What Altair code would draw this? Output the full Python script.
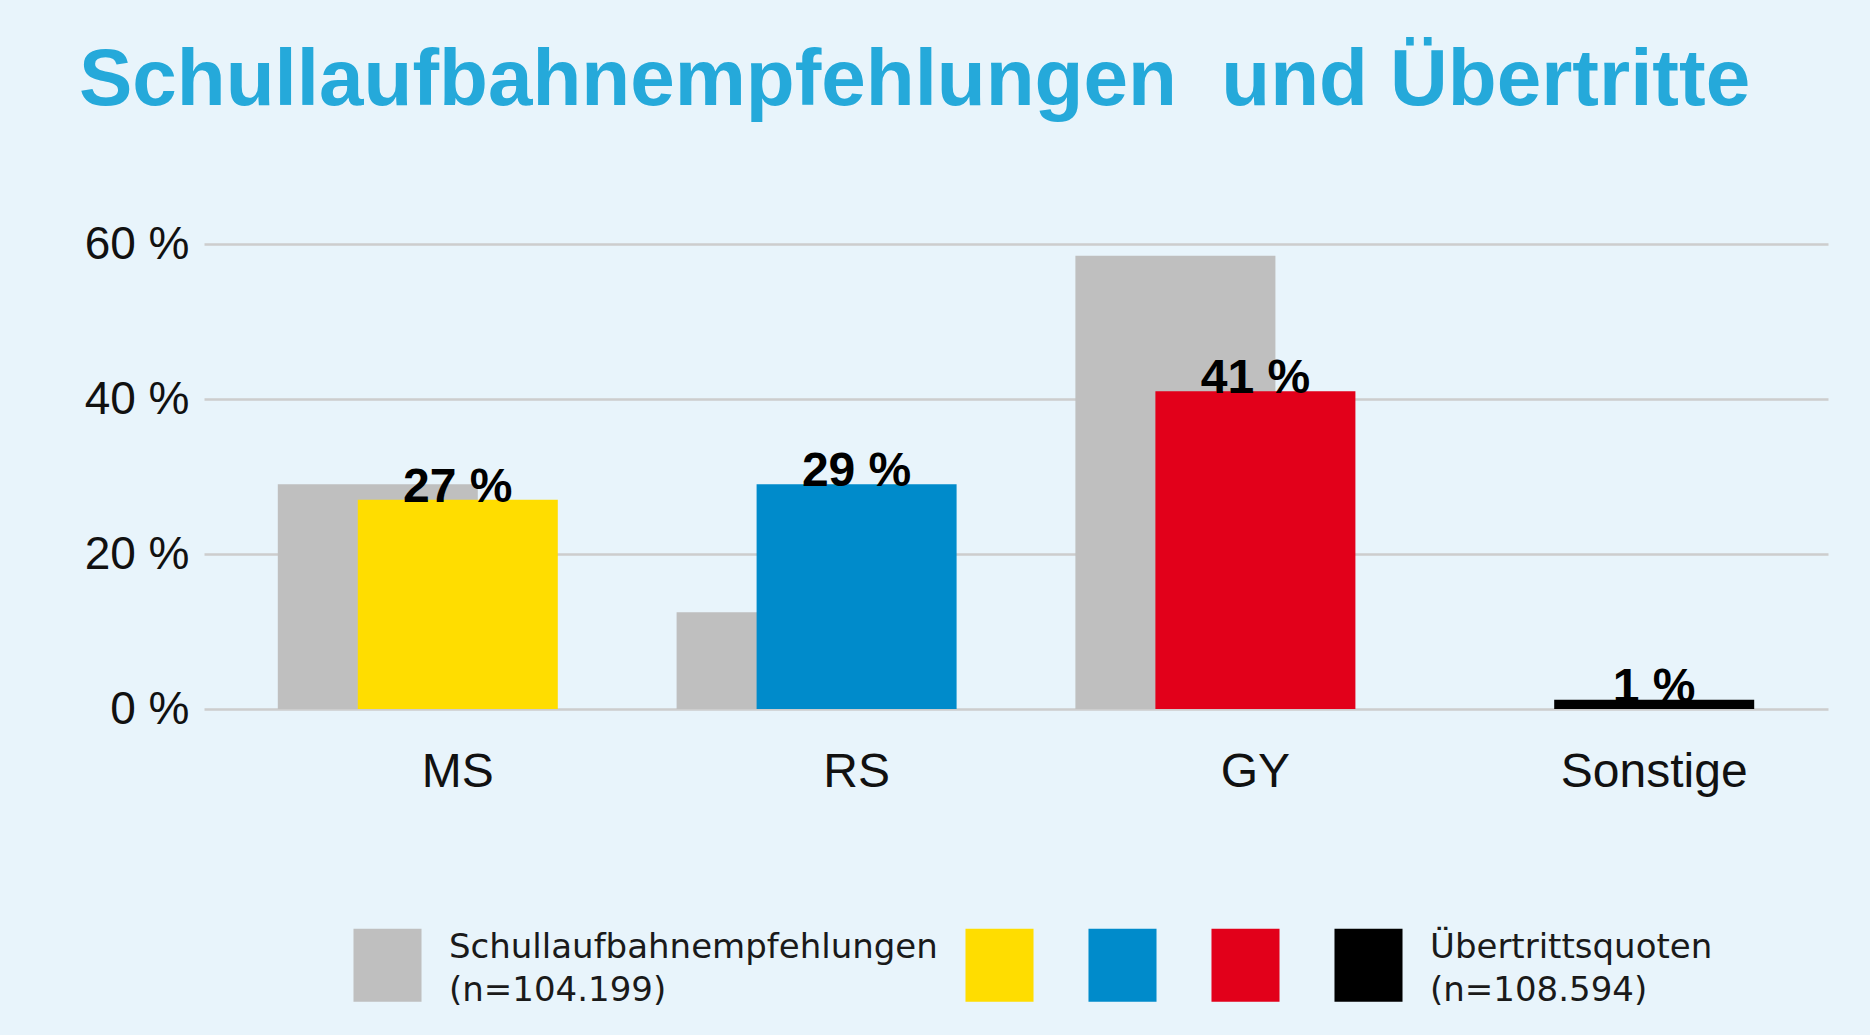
import altair as alt
import pandas as pd

# ---- data ----
kategorien = ["MS", "RS", "GY", "Sonstige"]
empfehlungen = [29.0, 12.5, 58.5, 0.0]          # Schullaufbahnempfehlungen (%)
uebertritte = [27.0, 29.0, 41.0, 1.2]           # Übertrittsquoten (%)
uebertritt_labels = ["27 %", "29 %", "41 %", "1 %"]
farb_schluessel = ["Empfehlung", "MS", "RS", "GY", "Sonstige"]
farben = ["#BFBFBF", "#FFDD00", "#008BCB", "#E2001A", "#000000"]
legende_empf = ["Schullaufbahnempfehlungen", "(n=104.199)"]
legende_ueb = ["Übertrittsquoten", "(n=108.594)"]
y_ticks = [0, 20, 40, 60]
titel = "Schullaufbahnempfehlungen\u00a0 und Übertritte"

FONT = "Liberation Sans"
SHIFT = 40  # horizontal shift of the coloured bars within their band

empf_df = pd.DataFrame({"Schulart": kategorien, "Anteil": empfehlungen,
                        "Schluessel": ["Empfehlung"] * len(kategorien)})
ueb_df = pd.DataFrame({"Schulart": kategorien, "Anteil": uebertritte,
                       "Schluessel": kategorien, "Label": uebertritt_labels})

x_enc = alt.X("Schulart:N", sort=kategorien,
              scale=alt.Scale(paddingInner=0, paddingOuter=0.0361),
              axis=alt.Axis(title=None, labelAngle=0, labelFontSize=48, labelPadding=39,
                            labelOffset=SHIFT, labelLimit=400,
                            domain=False, ticks=False, grid=False, labelColor="#111111",
                            labelFont=FONT))
y_enc = alt.Y("Anteil:Q", scale=alt.Scale(domain=[0, 60], nice=False),
              axis=alt.Axis(values=y_ticks, labelExpr="datum.value + ' %'", title=None,
                            domain=False, ticks=False, gridColor="#CDCDCD", gridWidth=2.5,
                            labelFontSize=46, labelPadding=15, labelColor="#111111",
                            labelFont=FONT))

def q(s):
    return "'" + s.replace("'", "\\'") + "'"

leer = ["\u200b", "\u200b"]
label_expr = (
    "datum.label == 'Empfehlung' ? [" + ", ".join(q(s) for s in legende_empf) + "] : "
    "datum.label == 'Sonstige' ? [" + ", ".join(q(s) for s in legende_ueb) + "] : ["
    + ", ".join(q(s) for s in leer) + "]"
)

color_enc = alt.Color(
    "Schluessel:N",
    scale=alt.Scale(domain=farb_schluessel, range=farben),
    legend=alt.Legend(
        title=None, orient="none", legendX=147, legendY=667, direction="horizontal",
        columns=5, symbolType="M-0.932,-0.52H0.932V1.48H-0.932Z", symbolSize=5329,
        symbolStrokeWidth=0, symbolOpacity=1, labelFontSize=34, labelFont="DejaVu Sans",
        labelColor="#1a1a1a", labelOffset=25, columnPadding=25, labelLimit=1000,
        padding=0, gridAlign="each", labelExpr=label_expr,
    ),
)

gray = alt.Chart(empf_df).mark_bar(width=200, xOffset=-SHIFT).encode(
    x=x_enc, y=y_enc, color=color_enc)
colored = alt.Chart(ueb_df).mark_bar(width=200, xOffset=SHIFT).encode(
    x=x_enc, y=y_enc, color=color_enc)
labels = alt.Chart(ueb_df).mark_text(
    fontSize=48, fontWeight="bold", baseline="alphabetic", dy=2, dx=SHIFT,
    color="#000000", font=FONT
).encode(x=x_enc, y=y_enc, text="Label:N")

chart = alt.layer(gray, colored, labels).properties(
    width=1624, height=465,
    autosize="none",
    padding={"left": 204, "top": 244, "right": 42, "bottom": 326},
    background="#E8F4FB",
    title=alt.Title(titel, anchor="start", frame="group", dx=-125, offset=36,
                    fontSize=80, fontWeight="bold", color="#25A9DA", font=FONT,
                    baseline="alphabetic"),
).configure(
    font=FONT, style={"guide-label": {"lineHeight": 43}}
).configure_view(stroke=None)

chart.save("out.html", embed_options={"renderer": "svg", "actions": False})
